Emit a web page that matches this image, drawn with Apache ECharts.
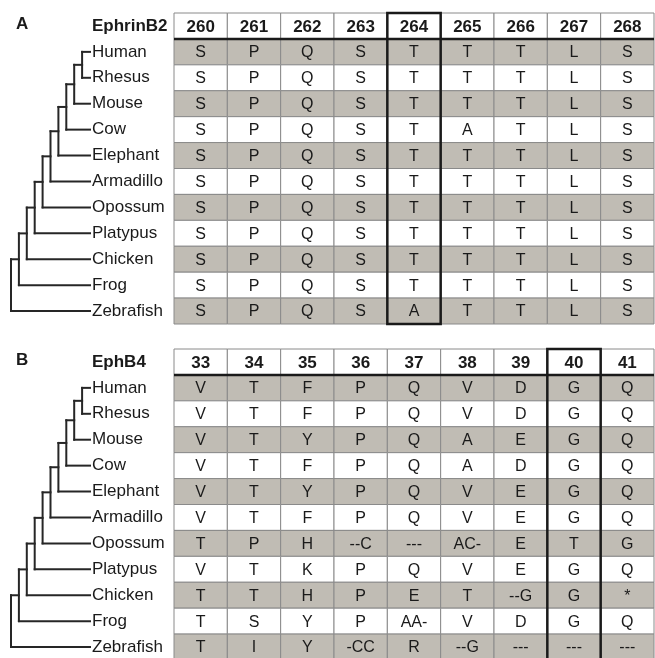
<!DOCTYPE html>
<html>
<head>
<meta charset="utf-8">
<script src="https://cdn.jsdelivr.net/npm/echarts@6/dist/echarts.min.js"></script>
<style>
  html, body { margin: 0; padding: 0; background: #fff; }
  #chart { width: 655px; height: 658px; }
</style>
</head>
<body>
<div id="chart"></div>
<script>
// species, top to bottom, shared by both panels
const speciesNames = ["Human", "Rhesus", "Mouse", "Cow", "Elephant", "Armadillo",
  "Opossum", "Platypus", "Chicken", "Frog", "Zebrafish"];

// tree: level at which species k (k >= 1) joins the clade above it; tips sit at tipLevel
const joinLevels = [9, 8, 7, 6, 5, 4, 3, 2, 1, 0];
const tipLevel = 10;

// panel A
const geneA = "EphrinB2";
const positionsA = ["260", "261", "262", "263", "264", "265", "266", "267", "268"];
const highlightA = "264";
const residuesA = [
  ["S", "P", "Q", "S", "T", "T", "T", "L", "S"],
  ["S", "P", "Q", "S", "T", "T", "T", "L", "S"],
  ["S", "P", "Q", "S", "T", "T", "T", "L", "S"],
  ["S", "P", "Q", "S", "T", "A", "T", "L", "S"],
  ["S", "P", "Q", "S", "T", "T", "T", "L", "S"],
  ["S", "P", "Q", "S", "T", "T", "T", "L", "S"],
  ["S", "P", "Q", "S", "T", "T", "T", "L", "S"],
  ["S", "P", "Q", "S", "T", "T", "T", "L", "S"],
  ["S", "P", "Q", "S", "T", "T", "T", "L", "S"],
  ["S", "P", "Q", "S", "T", "T", "T", "L", "S"],
  ["S", "P", "Q", "S", "A", "T", "T", "L", "S"]
];

// panel B
const geneB = "EphB4";
const positionsB = ["33", "34", "35", "36", "37", "38", "39", "40", "41"];
const highlightB = "40";
const residuesB = [
  ["V", "T", "F", "P", "Q", "V", "D", "G", "Q"],
  ["V", "T", "F", "P", "Q", "V", "D", "G", "Q"],
  ["V", "T", "Y", "P", "Q", "A", "E", "G", "Q"],
  ["V", "T", "F", "P", "Q", "A", "D", "G", "Q"],
  ["V", "T", "Y", "P", "Q", "V", "E", "G", "Q"],
  ["V", "T", "F", "P", "Q", "V", "E", "G", "Q"],
  ["T", "P", "H", "--C", "---", "AC-", "E", "T", "G"],
  ["V", "T", "K", "P", "Q", "V", "E", "G", "Q"],
  ["T", "T", "H", "P", "E", "T", "--G", "G", "*"],
  ["T", "S", "Y", "P", "AA-", "V", "D", "G", "Q"],
  ["T", "I", "Y", "-CC", "R", "--G", "---", "---", "---"]
];

const FONT = "'Liberation Sans', Arial, sans-serif";
const GRAY = "#c0bcb4";
const BORDER = "#8a8a8a";
const INK = "#1a1a1a";

const chart = echarts.init(document.getElementById("chart"));

// tree segments [x1, y1, x2, y2] in (level, row) units
function treeSegments() {
  const segs = [];
  let midY = 0;
  let prevLevel = tipLevel;
  for (let k = 1; k < speciesNames.length; k++) {
    const lv = joinLevels[k - 1];
    segs.push([lv, midY, prevLevel, midY]);
    segs.push([lv, k, tipLevel, k]);
    segs.push([lv, midY, lv, k]);
    midY = (midY + k) / 2;
    prevLevel = lv;
  }
  return segs;
}

const grids = [], xAxes = [], yAxes = [], series = [], titles = [];

function addPanel(p, top, letter, gene, positions, residues, highlight) {
  const rows = speciesNames.length + 1;
  const gTree = grids.length;
  grids.push({ left: 11, width: 79, top: top, height: 311, outerBoundsMode: "none" });
  grids.push({ left: 174, width: 480, top: top, height: 311, outerBoundsMode: "none" });

  xAxes.push({ gridIndex: gTree, type: "value", min: 0, max: tipLevel, show: false });
  yAxes.push({ gridIndex: gTree, type: "value", min: -1.5, max: rows - 1.5, inverse: true, show: false });

  xAxes.push({ gridIndex: gTree + 1, type: "category", data: positions, show: false });
  yAxes.push({
    gridIndex: gTree + 1, type: "category", inverse: true,
    data: [gene].concat(speciesNames),
    axisLine: { show: false }, axisTick: { show: false }, splitLine: { show: false },
    axisLabel: {
      interval: 0, align: "left", margin: 82,
      fontFamily: FONT, fontSize: 17, color: INK,
      formatter: (v, i) => (i === 0 ? "{b|" + v + "}" : v),
      rich: { b: { fontFamily: FONT, fontSize: 17, fontWeight: "bold", color: INK } }
    }
  });

  // tree
  series.push({
    type: "custom", xAxisIndex: gTree, yAxisIndex: gTree,
    data: treeSegments(),
    renderItem: (params, api) => {
      const a = api.coord([api.value(0), api.value(1)]);
      const b = api.coord([api.value(2), api.value(3)]);
      return {
        type: "line",
        shape: { x1: a[0], y1: a[1], x2: b[0], y2: b[1] },
        style: { stroke: "#262626", lineWidth: 2, lineCap: "square" }
      };
    }
  });

  // cells: row 0 is the header with positions
  const cells = [], cellData = [];
  for (let r = 0; r < rows; r++) {
    for (let c = 0; c < positions.length; c++) {
      const text = r === 0 ? positions[c] : residues[r - 1][c];
      cells.push({ text: text, head: r === 0, fill: r > 0 && r % 2 === 1 ? GRAY : "#fff" });
      cellData.push([c, r]);
    }
  }
  series.push({
    type: "custom", xAxisIndex: gTree + 1, yAxisIndex: gTree + 1,
    data: cellData,
    renderItem: (params, api) => {
      const cell = cells[params.dataIndex];
      const pt = api.coord([api.value(0), api.value(1)]);
      const sz = api.size([1, 1]);
      return {
        type: "group",
        children: [
          {
            type: "rect",
            shape: { x: pt[0] - sz[0] / 2, y: pt[1] - sz[1] / 2, width: sz[0], height: sz[1] },
            style: { fill: cell.fill, stroke: BORDER, lineWidth: 1 }
          },
          {
            type: "text",
            style: {
              text: cell.text, x: pt[0], y: pt[1] + 1, align: "center", verticalAlign: "middle",
              fill: INK, font: (cell.head ? "bold 17px " : "16px ") + FONT
            }
          }
        ]
      };
    }
  });

  // header rule and highlighted column frame
  const hi = positions.indexOf(highlight);
  series.push({
    type: "custom", xAxisIndex: gTree + 1, yAxisIndex: gTree + 1,
    data: [[hi, 0]],
    z: 5,
    renderItem: (params, api) => {
      const pt = api.coord([api.value(0), 0]);
      const sz = api.size([1, 1]);
      const first = api.coord([0, 0]);
      const last = api.coord([positions.length - 1, 0]);
      const yTop = pt[1] - sz[1] / 2;
      return {
        type: "group",
        children: [
          {
            type: "line",
            shape: { x1: first[0] - sz[0] / 2, y1: yTop + sz[1], x2: last[0] + sz[0] / 2, y2: yTop + sz[1] },
            style: { stroke: INK, lineWidth: 2.5 }
          },
          {
            type: "rect",
            shape: { x: pt[0] - sz[0] / 2, y: yTop, width: sz[0], height: sz[1] * rows },
            style: { fill: "none", stroke: INK, lineWidth: 2.5 }
          }
        ]
      };
    }
  });

  titles.push({
    text: letter, left: 11, top: top - 2,
    textStyle: { fontFamily: FONT, fontSize: 17, fontWeight: "bold", color: INK }
  });
}

addPanel(0, 13, "A", geneA, positionsA, residuesA, highlightA);
addPanel(1, 349, "B", geneB, positionsB, residuesB, highlightB);

chart.setOption({
  animation: false,
  title: titles,
  grid: grids,
  xAxis: xAxes,
  yAxis: yAxes,
  series: series
});
</script>
</body>
</html>
